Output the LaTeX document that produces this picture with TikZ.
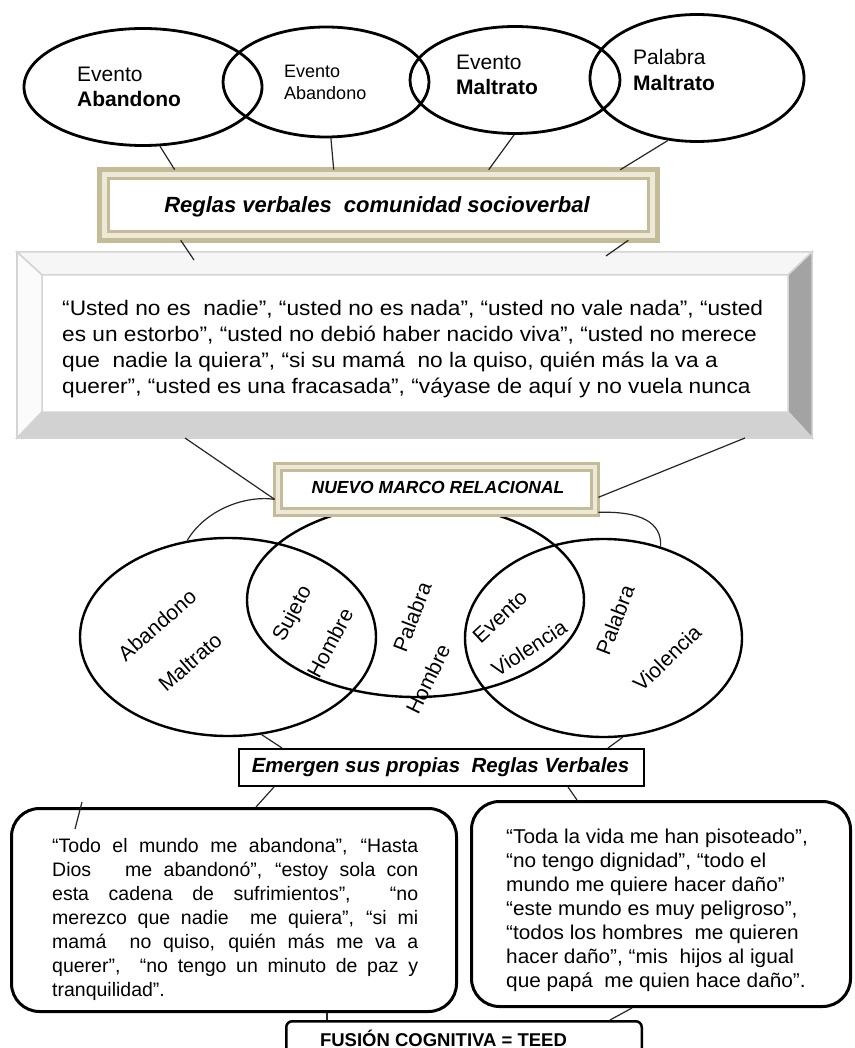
\documentclass[tikz,border=0pt]{standalone}
\usepackage{fontspec}
\setmainfont{Liberation Sans}
\usetikzlibrary{shapes.geometric}
\definecolor{tanline}{RGB}{196,188,148}
\definecolor{tanfill}{RGB}{236,233,218}
\definecolor{bevline}{RGB}{212,212,212}
\definecolor{bevtop}{RGB}{246,246,246}
\definecolor{bevleft}{RGB}{251,251,251}
\definecolor{bevright}{RGB}{163,163,163}
\definecolor{bevbottom}{RGB}{210,210,210}
\newcommand\pxfont[2]{\fontsize{#1}{#2}\selectfont}

\begin{document}
\begin{tikzpicture}
        [x=1pt,y=-1pt,
        oval/.style={ellipse,draw,line width=2.8pt,inner sep=0pt},
        venn/.style={ellipse,draw,line width=2.4pt,inner sep=0pt},
        tanbox/.style={rectangle,draw=tanline,fill=tanfill,inner sep=0pt,outer sep=0pt},
        plainbox/.style={rectangle,draw,line width=1.6pt,fill=white,inner sep=0pt},
        roundbox/.style={rectangle,draw,line width=3pt,rounded corners=28pt,inner sep=0pt},
        link/.style={line width=1.2pt,black!85},
        word/.style={inner sep=0pt,font=\pxfont{21}{25}}]
        \useasboundingbox (0,0) rectangle (854,1048);
        \clip (0,0) rectangle (854,1048);
        \fill[white] (0,0) rectangle (854,1048);

        % top ovals
        \node[oval,minimum width=238,minimum height=117] (evAband) at (143,87) {};
        \node[oval,minimum width=206,minimum height=110] (evAband2) at (326,82) {};
        \node[oval,minimum width=210,minimum height=107] (evMaltr) at (515,80) {};
        \node[oval,minimum width=214,minimum height=127] (palMaltr) at (697,78) {};

        \node[word,align=left,anchor=west] (tAband) at (77,86.5) {Evento\\\textbf{Abandono}};
        \node[word,align=left,anchor=west,font=\pxfont{18}{22}] (tAband2) at (284,82) {Evento\\Abandono};
        \node[word,align=left,anchor=west] (tMaltr) at (456,74.5) {Evento\\\textbf{Maltrato}};
        \node[word,align=left,anchor=west,font=\pxfont{21}{26}] (tPalMaltr) at (633,70) {Palabra\\\textbf{Maltrato}};

        % reglas box
        \node[tanbox,line width=5.3pt,minimum width=557.6,minimum height=70.6] (reglas) at (378.5,205) {};
        \draw[tanline,line width=3.5pt,fill=white] ([shift={(8.7pt,-8.7pt)}]reglas.north west) rectangle ([shift={(-8.7pt,8.7pt)}]reglas.south east);
        \node[font=\pxfont{22}{25}\bfseries\itshape] (reglasTxt) at (377,207) {Reglas verbales\ \ comunidad socioverbal};

        % big bevel box
        \node[rectangle,draw=bevline,line width=2pt,fill=white,inner sep=0pt,outer sep=0pt,
          minimum width=795,minimum height=186] (bigbox) at (414.5,345) {};
        \coordinate (iNW) at ([shift={(25pt,-23pt)}]bigbox.north west);
        \coordinate (iNE) at ([shift={(-24pt,-23pt)}]bigbox.north east);
        \coordinate (iSE) at ([shift={(-24pt,26pt)}]bigbox.south east);
        \coordinate (iSW) at ([shift={(25pt,26pt)}]bigbox.south west);
        \filldraw[bevline,fill=bevtop,line width=1.5pt] (bigbox.north west) -- (bigbox.north east) -- (iNE) -- (iNW) -- cycle;
        \filldraw[bevline,fill=bevleft,line width=1.5pt] (bigbox.north west) -- (iNW) -- (iSW) -- (bigbox.south west) -- cycle;
        \filldraw[bevline,fill=bevright,line width=1.5pt] (bigbox.north east) -- (iNE) -- (iSE) -- (bigbox.south east) -- cycle;
        \filldraw[bevline,fill=bevbottom,line width=1.5pt] (bigbox.south west) -- (iSW) -- (iSE) -- (bigbox.south east) -- cycle;
        \node[align=left,anchor=west,inner sep=0pt,font=\pxfont{21}{26}\addfontfeature{FakeStretch=1.08}] (bigTxt) at (62,349)
          {“Usted no es\ \ nadie”, “usted no es nada”, “usted no vale nada”, “usted\\
           es un estorbo”, “usted no debió haber nacido viva”, “usted no merece\\
           que\ \ nadie la quiera”, “si su mamá\ \ no la quiso, quién más la va a\\
           querer”, “usted es una fracasada”, “váyase de aquí y no vuela nunca};

        % venn ovals
        \node[venn,minimum width=296,minimum height=198] (vAband) at (228,637) {};
        \node[venn,minimum width=337,minimum height=194] (vHombre) at (415.5,600) {};
        \node[venn,minimum width=277,minimum height=198] (vViol) at (603.5,638) {};

        \node[word,rotate=41] (wAband) at (157,625) {Abandono};
        \node[word,rotate=41] (wMaltr) at (190,662) {Maltrato};
        \node[word,rotate=62] (wSujeto) at (293,614) {Sujeto};
        \node[word,rotate=62] (wHombre) at (330,643) {Hombre};
        \node[word,rotate=69] (wPalabra) at (412,617) {Palabra};
        \node[word,rotate=64] (wHombre2) at (428,679) {Hombre};
        \node[word,rotate=43] (wEvento) at (500,617) {Evento};
        \node[word,rotate=33] (wViol) at (529,648) {Violencia};
        \node[word,rotate=69] (wPalabra2) at (615,620) {Palabra};
        \node[word,rotate=44] (wViol2) at (667,658) {Violencia};

        % nuevo marco box
        \node[tanbox,line width=3.3pt,minimum width=323.7,minimum height=51.7] (marco) at (436.5,489.5) {};
        \draw[tanline,line width=2.6pt,fill=white] ([shift={(7pt,-7pt)}]marco.north west) rectangle ([shift={(-7pt,7pt)}]marco.south east);
        \node[font=\pxfont{17.5}{20}\bfseries\itshape] (marcoTxt) at (438,487) {NUEVO MARCO RELACIONAL};

        % emergen box
        \node[plainbox,minimum width=405.4,minimum height=37.4] (emerge) at (441.5,767.5) {};
        \node[font=\pxfont{20.5}{23}\bfseries\itshape] (emergeTxt) at (440.5,767) {Emergen sus propias\ \ Reglas Verbales};

        % lower boxes
        \node[roundbox,minimum width=445,minimum height=203] (boxL) at (234,910) {};
        \node[roundbox,minimum width=379,minimum height=205] (boxR) at (661,904) {};
        \node[anchor=west,inner sep=0pt,text width=366pt,align=justify,font=\pxfont{19.5}{24}] (txtL) at (52,919)
          {“Todo el mundo me abandona”, “Hasta\linebreak
           Dios\ \ \ me abandonó”, “estoy sola con\linebreak
           esta cadena de sufrimientos”,\ \ “no\linebreak
           merezco que nadie\ \ me quiera”, “si mi\linebreak
           mamá\ \ no quiso, quién más me va a\linebreak
           querer”,\ \ “no tengo un minuto de paz y\linebreak
           tranquilidad”.};
        \node[anchor=west,inner sep=0pt,align=left,font=\pxfont{20}{24}\addfontfeature{FakeStretch=1.04}] (txtR) at (506,910)
          {“Toda la vida me han pisoteado”,\\
           “no tengo dignidad”, “todo el\\
           mundo me quiere hacer daño”\\
           “este mundo es muy peligroso”,\\
           “todos los hombres\ \ me quieren\\
           hacer daño”, “mis\ \ hijos al igual\\
           que papá\ \ me quien hace daño”.};

        % fusion box
        \node[rectangle,draw,line width=2.5pt,rounded corners=6pt,fill=white,inner sep=0pt,
          minimum width=355.5,minimum height=34] (fusion) at (464,1038.25) {};
        \node[font=\pxfont{18.5}{22}\bfseries] (fusionTxt) at (443.5,1038) {FUSIÓN COGNITIVA = TEED};

        % connectors
        \draw[link] (evAband.-74) -- ([xshift=75pt]reglas.north west);
        \draw[link] (evAband2.-85) -- ([xshift=234pt]reglas.north west);
        \draw[link] (evMaltr.-91) -- ([xshift=389pt]reglas.north west);
        \draw[link] (palMaltr.-115) -- ([xshift=-37pt]reglas.north east);

        \draw[link] ([xshift=81pt]reglas.south west) -- ([shift={(177pt,-8pt)}]bigbox.north west);
        \draw[link] ([xshift=-29pt]reglas.south east) -- ([shift={(-206pt,-4pt)}]bigbox.north east);

        \draw[link] ([xshift=168pt]bigbox.south west) -- ([yshift=16pt]marco.south west);
        \draw[link] ([xshift=-67pt]bigbox.south east) -- ([yshift=18pt]marco.south east);
        \draw[link] ([yshift=16pt]marco.south west) .. controls (245,495) and (205,510) .. (vAband.113);
        \draw[link] ([yshift=3pt]marco.south east) .. controls (640,511) and (662,522) .. (vViol.58);

        \draw[link] (vAband.-71) -- ([xshift=44pt]emerge.north west);
        \draw[link] (vViol.-79) -- ([xshift=-37pt]emerge.north east);
        \draw[link] ([xshift=36pt]emerge.south west) -- ([xshift=22pt]boxL.north);
        \draw[link] ([xshift=-77pt]emerge.south east) -- ([xshift=-84pt]boxR.north);

        \coordinate (tickTop) at (82,802);
        \coordinate (tickBot) at (75,829);
        \draw[link] (tickTop) -- (tickBot);

        \draw[link] ([xshift=93pt]boxL.south) -- ([xshift=-137pt]fusion.north);
        \draw[link] ([xshift=-29pt]boxR.south) -- ([xshift=146pt]fusion.north);
      \end{tikzpicture}
\end{document}
